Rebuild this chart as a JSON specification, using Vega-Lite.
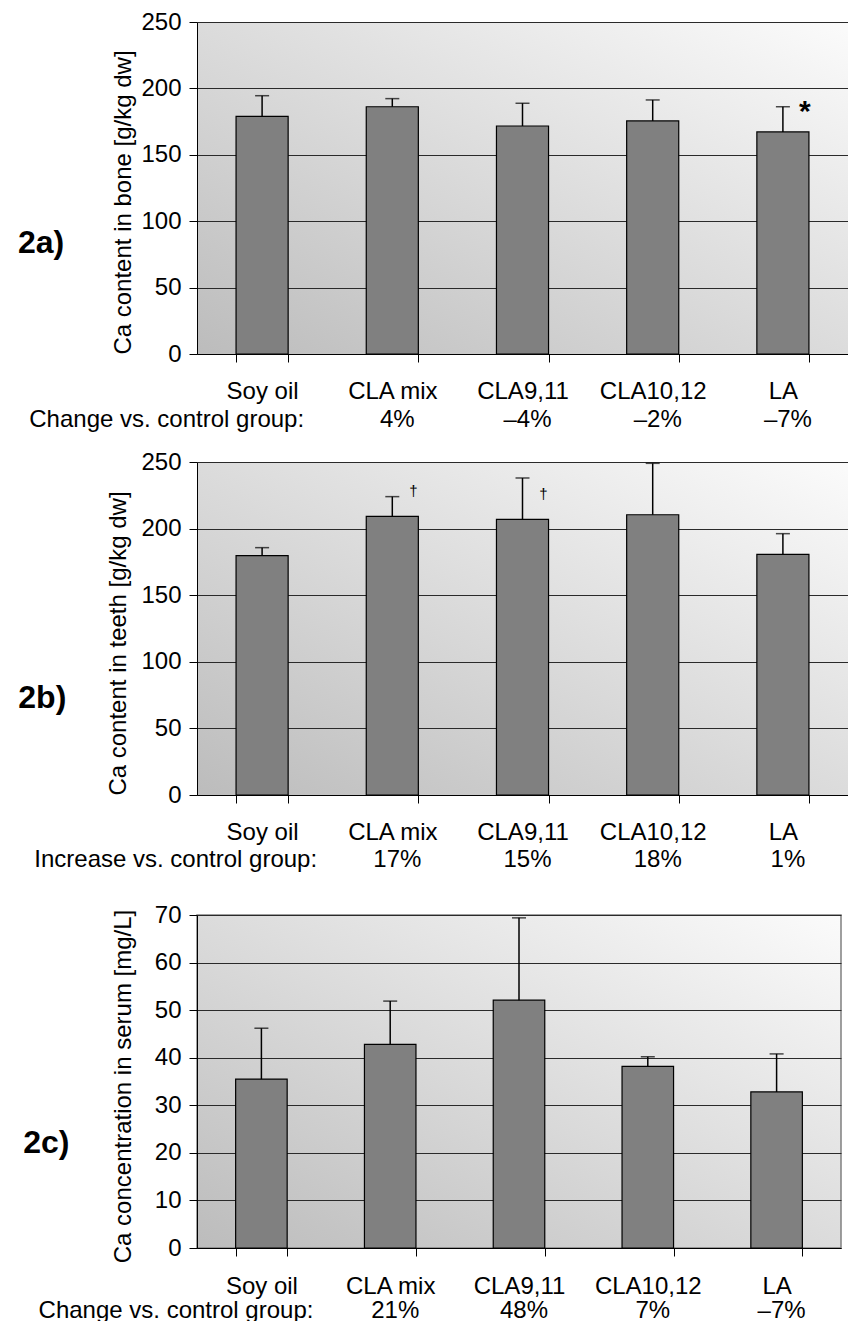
{
  "$schema": "https://vega.github.io/schema/vega-lite/v6.json",
  "autosize": {"type": "pad"},
  "padding": {"left": 17, "top": 10, "right": 0, "bottom": 0},
  "background": "white",
  "config": {
    "font": "Liberation Sans",
    "view": {"stroke": null},
    "axis": {
      "labelFont": "Liberation Sans", "titleFont": "Liberation Sans",
      "labelFontSize": 24, "titleFontSize": 24,
      "labelColor": "#000", "titleColor": "#000", "titleFontWeight": "normal",
      "domainColor": "#000", "tickColor": "#000", "tickSize": 8,
      "gridColor": "#2a2a2a", "gridOpacity": 1, "domainWidth": 1, "tickWidth": 1
    },
    "axisX": {"tickBand": "extent", "labelAngle": 0, "grid": false, "title": null, "labelBaseline": "middle", "labelPadding": 29},
    "axisY": {"grid": true, "labelPadding": 8},
    "title": {"font": "Liberation Sans", "fontSize": 32, "fontWeight": "bold", "orient": "left", "angle": 0, "align": "right", "baseline": "middle", "anchor": "middle", "frame": "group", "color": "#000"}
  },
  "datasets": {
    "a": [
      {"group": "Soy oil", "mean": 179, "upper": 194.5, "pct": "Change vs. control group:", "sig": ""},
      {"group": "CLA mix", "mean": 186.2, "upper": 192.3, "pct": "4%", "sig": ""},
      {"group": "CLA9,11", "mean": 171.7, "upper": 188.8, "pct": "–4%", "sig": ""},
      {"group": "CLA10,12", "mean": 175.5, "upper": 191.3, "pct": "–2%", "sig": ""},
      {"group": "LA", "mean": 167.2, "upper": 186.2, "pct": "–7%", "sig": "*"}
    ],
    "b": [
      {"group": "Soy oil", "mean": 179.7, "upper": 185.7, "pct": "Increase vs. control group:", "sig": ""},
      {"group": "CLA mix", "mean": 209.2, "upper": 224, "pct": "17%", "sig": "†"},
      {"group": "CLA9,11", "mean": 207, "upper": 238, "pct": "15%", "sig": "†"},
      {"group": "CLA10,12", "mean": 210.4, "upper": 249, "pct": "18%", "sig": ""},
      {"group": "LA", "mean": 180.7, "upper": 196.2, "pct": "1%", "sig": ""}
    ],
    "c": [
      {"group": "Soy oil", "mean": 35.5, "upper": 46.2, "pct": "Change vs. control group:", "sig": ""},
      {"group": "CLA mix", "mean": 42.8, "upper": 51.9, "pct": "21%", "sig": ""},
      {"group": "CLA9,11", "mean": 52.1, "upper": 69.4, "pct": "48%", "sig": ""},
      {"group": "CLA10,12", "mean": 38.2, "upper": 40.2, "pct": "7%", "sig": ""},
      {"group": "LA", "mean": 32.8, "upper": 40.8, "pct": "–7%", "sig": ""}
    ]
  },
  "spacing": 30,
  "vconcat": [
    {
      "spacing": 18,
      "vconcat": [
        {
          "width": 651, "height": 332,
          "title": {"text": "2a)", "offset": -58, "dy": 40},
          "view": {"stroke": null, "fill": {"gradient": "linear", "x1": 1, "y1": 0, "x2": 0, "y2": 1, "stops": [{"offset": 0, "color": "#fbfbfb"}, {"offset": 1, "color": "#bcbcbc"}]}},
          "data": {"name": "a"},
          "encoding": {
            "x": {"field": "group", "type": "nominal", "scale": {"domain": ["Soy oil", "CLA mix", "CLA9,11", "CLA10,12", "LA"], "paddingInner": 0.6, "paddingOuter": 0.3}}
          },
          "layer": [
            {"mark": {"type": "bar", "fill": "#808080", "stroke": "#000", "strokeWidth": 1.2},
             "encoding": {"y": {"field": "mean", "type": "quantitative", "title": "Ca content in bone [g/kg dw]", "scale": {"domain": [0, 250], "nice": false}, "axis": {"values": [0, 50, 100, 150, 200, 250], "titleY": 180, "titlePadding": 5}}}},
            {"mark": {"type": "rule", "color": "#000", "strokeWidth": 1.5},
             "encoding": {"y": {"field": "mean", "type": "quantitative", "title": "Ca content in bone [g/kg dw]"}, "y2": {"field": "upper"}}},
            {"mark": {"type": "tick", "color": "#000", "thickness": 1.5, "size": 14},
             "encoding": {"y": {"field": "upper", "type": "quantitative", "title": "Ca content in bone [g/kg dw]"}}},
            {"mark": {"type": "text", "fontSize": 30, "fontWeight": "bold", "dx": 22, "dy": -20, "baseline": "middle"},
             "encoding": {"y": {"field": "mean", "type": "quantitative", "title": "Ca content in bone [g/kg dw]"}, "text": {"field": "sig"}}},
            {"transform": [{"filter": "datum.group != 'Soy oil'"}],
             "mark": {"type": "text", "fontSize": 24, "dx": 5, "dy": 66, "baseline": "middle"},
             "encoding": {"y": {"value": "height"}, "text": {"field": "pct"}}},
            {"transform": [{"filter": "datum.group == 'Soy oil'"}],
             "mark": {"type": "text", "fontSize": 24, "dx": 42, "dy": 66, "align": "right", "baseline": "middle"},
             "encoding": {"y": {"value": "height"}, "text": {"field": "pct"}}}
          ]
        },
        {
          "width": 651, "height": 333,
          "title": {"text": "2b)", "offset": -56, "dy": 54},
          "view": {"stroke": null, "fill": {"gradient": "linear", "x1": 1, "y1": 0, "x2": 0, "y2": 1, "stops": [{"offset": 0, "color": "#fbfbfb"}, {"offset": 1, "color": "#bcbcbc"}]}},
          "data": {"name": "b"},
          "encoding": {
            "x": {"field": "group", "type": "nominal", "scale": {"domain": ["Soy oil", "CLA mix", "CLA9,11", "CLA10,12", "LA"], "paddingInner": 0.6, "paddingOuter": 0.3}}
          },
          "layer": [
            {"mark": {"type": "bar", "fill": "#808080", "stroke": "#000", "strokeWidth": 1.2},
             "encoding": {"y": {"field": "mean", "type": "quantitative", "title": "Ca content in teeth [g/kg dw]", "scale": {"domain": [0, 250], "nice": false}, "axis": {"values": [0, 50, 100, 150, 200, 250], "titleY": 181, "titlePadding": 10}}}},
            {"mark": {"type": "rule", "color": "#000", "strokeWidth": 1.5},
             "encoding": {"y": {"field": "mean", "type": "quantitative", "title": "Ca content in teeth [g/kg dw]"}, "y2": {"field": "upper"}}},
            {"mark": {"type": "tick", "color": "#000", "thickness": 1.5, "size": 14},
             "encoding": {"y": {"field": "upper", "type": "quantitative", "title": "Ca content in teeth [g/kg dw]"}}},
            {"mark": {"type": "text", "fontSize": 15, "color": "#000", "dx": 21, "dy": -25, "baseline": "middle"},
             "encoding": {"y": {"field": "mean", "type": "quantitative", "title": "Ca content in teeth [g/kg dw]"}, "text": {"field": "sig"}}},
            {"transform": [{"filter": "datum.group != 'Soy oil'"}],
             "mark": {"type": "text", "fontSize": 24, "dx": 5, "dy": 65, "baseline": "middle"},
             "encoding": {"y": {"value": "height"}, "text": {"field": "pct"}}},
            {"transform": [{"filter": "datum.group == 'Soy oil'"}],
             "mark": {"type": "text", "fontSize": 24, "dx": 55, "dy": 65, "align": "right", "baseline": "middle"},
             "encoding": {"y": {"value": "height"}, "text": {"field": "pct"}}}
          ]
        }
      ]
    },
    {
      "width": 644, "height": 333,
      "title": {"text": "2c)", "offset": -54, "dy": 46},
      "view": {"stroke": "#808080", "strokeWidth": 1.5, "fill": {"gradient": "linear", "x1": 1, "y1": 0, "x2": 0, "y2": 1, "stops": [{"offset": 0, "color": "#fbfbfb"}, {"offset": 1, "color": "#bcbcbc"}]}},
      "data": {"name": "c"},
      "encoding": {
        "x": {"field": "group", "type": "nominal", "scale": {"domain": ["Soy oil", "CLA mix", "CLA9,11", "CLA10,12", "LA"], "paddingInner": 0.6, "paddingOuter": 0.3}, "axis": {"labelPadding": 30}}
      },
      "layer": [
        {"mark": {"type": "bar", "fill": "#808080", "stroke": "#000", "strokeWidth": 1.2},
         "encoding": {"y": {"field": "mean", "type": "quantitative", "title": "Ca concentration in serum [mg/L]", "scale": {"domain": [0, 70], "nice": false}, "axis": {"values": [0, 10, 20, 30, 40, 50, 60, 70], "titleY": 171, "titlePadding": 19}}}},
        {"mark": {"type": "rule", "color": "#000", "strokeWidth": 1.5},
         "encoding": {"y": {"field": "mean", "type": "quantitative", "title": "Ca concentration in serum [mg/L]"}, "y2": {"field": "upper"}}},
        {"mark": {"type": "tick", "color": "#000", "thickness": 1.5, "size": 14},
         "encoding": {"y": {"field": "upper", "type": "quantitative", "title": "Ca concentration in serum [mg/L]"}}},
        {"transform": [{"filter": "datum.group != 'Soy oil'"}],
         "mark": {"type": "text", "fontSize": 24, "dx": 5, "dy": 63, "baseline": "middle"},
         "encoding": {"y": {"value": "height"}, "text": {"field": "pct"}}},
        {"transform": [{"filter": "datum.group == 'Soy oil'"}],
         "mark": {"type": "text", "fontSize": 24, "dx": 52, "dy": 63, "align": "right", "baseline": "middle"},
         "encoding": {"y": {"value": "height"}, "text": {"field": "pct"}}}
      ]
    }
  ]
}
